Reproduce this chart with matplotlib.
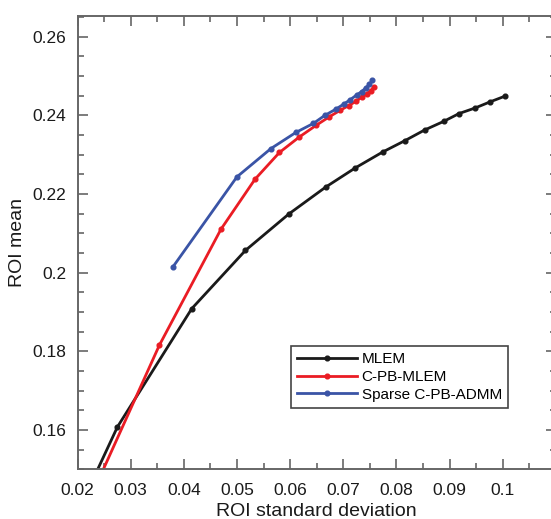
import numpy as np
import matplotlib
matplotlib.use('Agg')
from matplotlib import pyplot as plt
from matplotlib.ticker import MultipleLocator

plt.rcParams['font.family'] = ['Liberation Sans', 'DejaVu Sans']

# ROI standard deviation / ROI mean
mlem_std = [0.0200, 0.0275, 0.0415, 0.0516, 0.0598, 0.0667, 0.0723, 0.0774, 0.0816,
            0.0853, 0.0889, 0.0918, 0.0948, 0.0977, 0.1004]
mlem_mean = [0.1390, 0.1608, 0.1909, 0.2057, 0.2150, 0.2218, 0.2267, 0.2307, 0.2336,
             0.2363, 0.2385, 0.2405, 0.2419, 0.2435, 0.2449]

cpb_std = [0.0185, 0.0354, 0.0470, 0.0534, 0.0580, 0.0617, 0.0649, 0.0673, 0.0694,
           0.0710, 0.0724, 0.0735, 0.0744, 0.0752, 0.0757]
cpb_mean = [0.1310, 0.1816, 0.2111, 0.2238, 0.2306, 0.2345, 0.2375, 0.2396, 0.2413,
            0.2425, 0.2436, 0.2447, 0.2455, 0.2463, 0.2472]

admm_std = [0.0380, 0.0500, 0.0564, 0.0611, 0.0644, 0.0665, 0.0686, 0.0702, 0.0713,
            0.0726, 0.0735, 0.0743, 0.0749, 0.0755]
admm_mean = [0.2016, 0.2244, 0.2316, 0.2357, 0.2380, 0.2400, 0.2416, 0.2430, 0.2440,
             0.2453, 0.2461, 0.2471, 0.2479, 0.2489]

fig = plt.figure(figsize=(5.51, 5.19), dpi=100)
ax = fig.add_axes([0.1407, 0.0954, 0.868, 0.8738])

ax.plot(mlem_std, mlem_mean, '-o', color='#1a1a1a', lw=2.0, ms=3.4, label='MLEM')
ax.plot(cpb_std, cpb_mean, '-o', color='#ea1c24', lw=2.0, ms=3.4, label='C-PB-MLEM')
ax.plot(admm_std, admm_mean, '-o', color='#3a54a6', lw=2.0, ms=3.4, label='Sparse C-PB-ADMM')

ax.set_xlim(0.02, 0.11)
ax.set_ylim(0.15, 0.2653)
ax.xaxis.set_minor_locator(MultipleLocator(0.005))
ax.yaxis.set_minor_locator(MultipleLocator(0.005))
ax.set_xticks(np.arange(0.02, 0.1001, 0.01))
ax.set_xticklabels(['0.02', '0.03', '0.04', '0.05', '0.06', '0.07', '0.08', '0.09', '0.1'])
ax.set_yticks(np.arange(0.16, 0.2601, 0.02))
ax.set_yticklabels(['0.16', '0.18', '0.2', '0.22', '0.24', '0.26'])

ax.tick_params(which='both', direction='in', top=True, right=True, color='#666666',
               labelsize=12.5, labelcolor='#1a1a1a', width=1.2)
ax.tick_params(which='major', length=7)
ax.tick_params(axis='x', which='major', pad=10)
ax.tick_params(axis='y', which='major', pad=8)
ax.tick_params(which='minor', length=4)
for s in ax.spines.values():
    s.set_color('#666666')
    s.set_linewidth(1.4)

ax.set_xlabel('ROI standard deviation', fontsize=14, color='#1a1a1a', labelpad=3)
ax.set_ylabel('ROI mean', fontsize=14, color='#1a1a1a', labelpad=5)

leg = ax.legend(loc='lower right', bbox_to_anchor=(0.9, 0.136), fontsize=11,
                fancybox=False, framealpha=1, edgecolor='#444444', handlelength=3.9,
                borderpad=0.4, labelspacing=0.25, handletextpad=0.3, borderaxespad=0)
leg.get_frame().set_linewidth(1.2)

fig.savefig('out.png', dpi=100)
